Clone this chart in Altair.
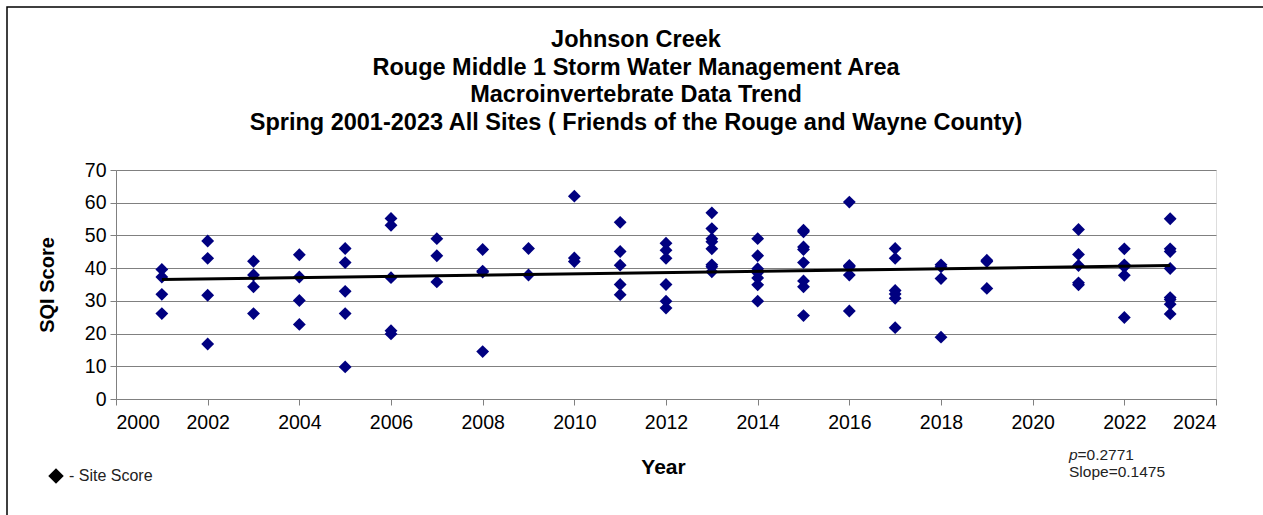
import altair as alt
import pandas as pd

# ---- data ----
years = [2001, 2002, 2003, 2004, 2005, 2006, 2007, 2008, 2009, 2010, 2011,
         2012, 2013, 2014, 2015, 2016, 2017, 2018, 2019, 2021, 2022, 2023]
scores_by_year = [
    [39.6, 37.3, 32.0, 26.1],
    [48.3, 43.0, 31.7, 16.8],
    [42.1, 37.9, 34.3, 26.1],
    [44.1, 37.3, 30.1, 22.8],
    [46.0, 41.7, 32.9, 26.1, 9.8],
    [55.2, 53.1, 37.1, 20.9, 19.9],
    [49.0, 43.8, 35.8],
    [45.7, 39.1, 38.8, 14.5],
    [46.0, 37.9],
    [62.0, 43.1, 42.0],
    [54.0, 45.1, 40.9, 35.0, 31.9],
    [47.6, 45.5, 43.0, 35.0, 29.9, 27.8],
    [56.9, 52.1, 49.0, 48.1, 45.9, 41.0, 40.4, 38.9],
    [49.0, 43.8, 39.8, 38.6, 37.0, 34.9, 29.9],
    [51.6, 51.1, 46.5, 45.7, 41.7, 36.1, 34.3, 25.5],
    [60.2, 40.8, 40.4, 37.9, 26.9],
    [46.0, 43.0, 33.2, 32.1, 30.8, 21.8],
    [41.0, 40.4, 36.8, 18.9],
    [42.4, 42.0, 33.8],
    [51.8, 44.2, 40.8, 35.5, 34.9],
    [45.9, 41.0, 40.4, 37.8, 24.9],
    [55.1, 45.9, 45.1, 39.9, 31.0, 30.4, 29.0, 26.0],
]
trend_years = [2001, 2023]
trend_values = [36.5, 40.8]
x_ticks = list(range(2000, 2025, 2))
y_ticks = list(range(0, 71, 10))

title_lines = [
    "Johnson Creek",
    "Rouge Middle 1 Storm Water Management Area",
    "Macroinvertebrate Data Trend",
    "Spring 2001-2023 All Sites ( Friends of the Rouge and Wayne County)",
]
legend_label = "-  Site Score"
p_label = "p"
p_value = "=0.2771"
slope_label = "Slope=0.1475"

FONT = "Liberation Sans"
GRID = "#808080"

rows = []
for yr, vals in zip(years, scores_by_year):
    for v in vals:
        rows.append({"Year": yr, "Score": v})
df = pd.DataFrame(rows)
trend_df = pd.DataFrame({"Year": trend_years, "Score": trend_values})

x_axis = alt.Axis(
    values=x_ticks, format="d", grid=False, labelOverlap=False,
    tickSize=6, tickColor=GRID, domainColor=GRID,
    labelFont=FONT, labelFontSize=19.5, labelColor="black", labelPadding=8,
    title="Year", titleFont=FONT, titleFontSize=21, titleFontWeight="bold",
    titleColor="black", titleX=547, titleY=68, titleBaseline="middle",
    titleAlign="center",
)
y_axis = alt.Axis(
    values=y_ticks, tickCount=8, grid=True, gridColor=GRID, gridWidth=1, gridOpacity=1,
    labelOverlap=False, labelFlush=False,
    tickSize=6, tickColor=GRID, domainColor=GRID,
    labelFont=FONT, labelFontSize=19.5, labelColor="black", labelPadding=4,
    title="SQI Score", titleFont=FONT, titleFontSize=20, titleFontWeight="bold",
    titleColor="black", titleAngle=270, titleX=-69, titleY=114.5,
    titleBaseline="middle", titleAlign="center",
)
x_scale = alt.Scale(domain=[2000, 2024], nice=False, zero=False)
y_scale = alt.Scale(domain=[0, 70], nice=False)

points = alt.Chart(df).mark_point(
    shape="diamond", filled=True, size=165, color="#000080", opacity=1
).encode(
    x=alt.X("Year:Q", scale=x_scale, axis=x_axis),
    y=alt.Y("Score:Q", scale=y_scale, axis=y_axis),
)

trend = alt.Chart(trend_df).mark_line(color="black", strokeWidth=3).encode(
    x=alt.X("Year:Q", scale=x_scale, axis=x_axis),
    y=alt.Y("Score:Q", scale=y_scale, axis=y_axis),
)

title_df = pd.DataFrame({"t": ["\n".join(title_lines)]})
title_txt = alt.Chart(title_df).mark_text(
    font=FONT, fontSize=23.5, fontWeight="bold", align="center", baseline="middle",
    color="black", lineBreak="\n", lineHeight=27.7
).encode(x=alt.value(520), y=alt.value(-130), text="t:N")

one = pd.DataFrame({"t": [legend_label]})
legend_sym = alt.Chart(one).mark_point(
    shape="diamond", filled=True, size=240, color="black", opacity=1
).encode(x=alt.value(-60), y=alt.value(306))
legend_txt = alt.Chart(one).mark_text(
    font=FONT, fontSize=16, align="left", baseline="middle", color="#222222"
).encode(x=alt.value(-47), y=alt.value(306), text="t:N")

p_df = pd.DataFrame({"t": [p_label]})
p_txt = alt.Chart(p_df).mark_text(
    font=FONT, fontSize=15.5, fontStyle="italic", align="left", baseline="middle",
    color="#222222"
).encode(x=alt.value(953), y=alt.value(285), text="t:N")
pv_df = pd.DataFrame({"t": [p_value]})
pv_txt = alt.Chart(pv_df).mark_text(
    font=FONT, fontSize=15.5, align="left", baseline="middle", color="#222222"
).encode(x=alt.value(961.5), y=alt.value(285), text="t:N")
s_df = pd.DataFrame({"t": [slope_label]})
s_txt = alt.Chart(s_df).mark_text(
    font=FONT, fontSize=15.5, align="left", baseline="middle", color="#222222"
).encode(x=alt.value(953), y=alt.value(302), text="t:N")

frame = alt.Chart(one).mark_rect(
    fill=None, stroke="black", strokeWidth=1.5
).encode(x=alt.value(-109), y=alt.value(-163), x2=alt.value(1300), y2=alt.value(600))

chart = alt.layer(
    frame, points, trend, title_txt, legend_sym, legend_txt, p_txt, pv_txt, s_txt
).properties(
    width=1100,
    height=229,
    autosize=alt.AutoSizeParams(type="none"),
    padding={"left": 116, "top": 170, "right": 47, "bottom": 116},
).configure_view(stroke=GRID, strokeWidth=1).configure(background="white")

chart.save("out.html", embed_options={"renderer": "svg", "actions": False})
